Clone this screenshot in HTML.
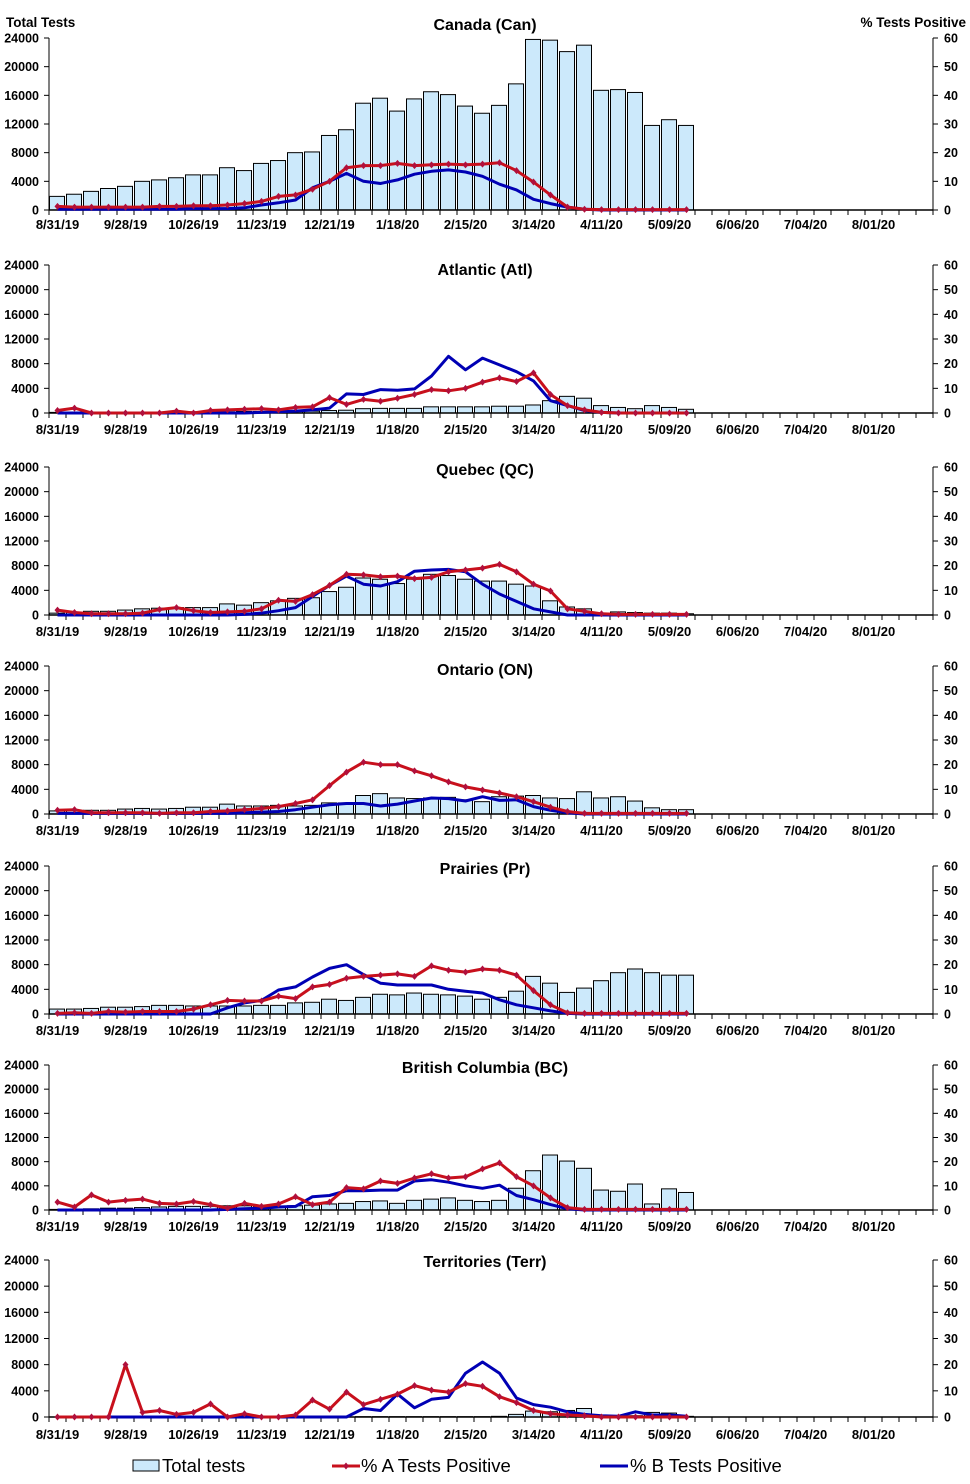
<!DOCTYPE html>
<html><head><meta charset="utf-8"><style>
body{margin:0;background:#fff;}
svg text{font-family:"Liberation Sans",Arial,sans-serif;font-weight:bold;fill:#000;}
</style></head><body>
<svg id="c" width="970" height="1479" xmlns="http://www.w3.org/2000/svg"></svg>
<script>
var S=document.getElementById('c');
var h='';
var X0=49,SL=17,N=52;
function cx(i){return X0+SL*i+8.5;}
var labels=['8/31/19','9/28/19','10/26/19','11/23/19','12/21/19','1/18/20','2/15/20','3/14/20','4/11/20','5/09/20','6/06/20','7/04/20','8/01/20'];
var P=[
{t:'Canada (Can)',top:38,z:210,ty:30,ly:229,
b:[1.9,2.2,2.6,3.0,3.3,4.0,4.2,4.5,4.9,4.9,5.9,5.5,6.5,6.9,8.0,8.1,10.4,11.2,14.9,15.6,13.8,15.5,16.5,16.1,14.5,13.5,14.6,17.6,23.8,23.7,22.1,23.0,16.7,16.8,16.4,11.8,12.6,11.8],
r:[0.5,0.4,0.4,0.4,0.4,0.4,0.5,0.5,0.6,0.6,0.7,0.9,1.2,1.9,2.1,2.9,4.0,5.9,6.2,6.2,6.5,6.2,6.3,6.4,6.3,6.4,6.6,5.5,3.9,2.1,0.4,0.1,0.05,0.05,0.05,0.05,0.05,0.05],
u:[0.1,0.1,0.1,0.1,0.1,0.1,0.1,0.1,0.2,0.2,0.2,0.3,0.7,1.0,1.4,3.1,4.0,5.1,4.0,3.7,4.2,5.0,5.4,5.6,5.3,4.7,3.6,2.8,1.5,0.9,0.4,0.1,0,0,0,0,0,0]},
{t:'Atlantic (Atl)',top:265,z:413,ty:275,ly:434,
b:[0.1,0.1,0.1,0.1,0.1,0.1,0.1,0.15,0.2,0.2,0.2,0.25,0.25,0.3,0.3,0.3,0.4,0.45,0.7,0.75,0.75,0.75,1.0,1.0,1.0,1.0,1.1,1.1,1.3,2.0,2.7,2.4,1.2,0.9,0.7,1.2,0.9,0.6],
r:[0.4,0.8,0,0,0,0,0,0.3,0,0.4,0.5,0.6,0.7,0.5,0.9,1.0,2.5,1.4,2.2,1.9,2.4,3.0,3.8,3.6,4.0,5.0,5.7,5.1,6.5,3.0,1.2,0.5,0.1,0,0,0,0,0],
u:[0,0,0,0,0,0,0,0,0,0,0,0,0.1,0.2,0.3,0.5,0.8,3.1,3.0,3.8,3.7,3.9,6.0,9.2,7.0,8.9,7.8,6.7,5.2,2.0,1.2,0.4,0.1,0,0,0,0,0]},
{t:'Quebec (QC)',top:467,z:615,ty:475,ly:636,
b:[0.3,0.4,0.6,0.6,0.8,1.0,1.1,1.2,1.2,1.2,1.8,1.6,2.0,2.3,2.7,2.8,3.8,4.5,6.0,5.8,5.1,5.8,6.6,6.4,5.8,5.5,5.5,5.0,4.7,2.3,1.3,1.0,0.1,0.5,0.4,0.3,0.3,0.2],
r:[0.8,0.4,0.2,0.2,0.2,0.3,0.9,1.2,0.7,0.4,0.5,0.6,1.0,2.4,2.2,3.3,4.8,6.6,6.5,6.2,6.3,5.9,6.1,7.0,7.3,7.6,8.2,7.0,5.0,3.9,1.0,0.6,0.2,0.1,0.1,0.1,0.1,0.1],
u:[0,0,0,0,0,0,0,0,0,0,0,0.1,0.3,0.7,1.2,3.0,4.8,6.3,5.0,4.7,5.4,7.1,7.3,7.4,7.0,5.0,3.4,2.2,1.0,0.5,0,0,0,0,0,0,0,0]},
{t:'Ontario (ON)',top:666,z:814,ty:675,ly:835,
b:[0.5,0.6,0.6,0.6,0.8,0.9,0.8,0.9,1.1,1.1,1.6,1.3,1.3,1.4,1.3,1.4,1.8,1.8,3.0,3.3,2.6,2.5,2.6,2.7,2.3,2.0,2.8,2.9,3.0,2.6,2.5,3.6,2.6,2.8,2.1,1.0,0.7,0.7],
r:[0.6,0.7,0.2,0.2,0.2,0.2,0.1,0.2,0.2,0.4,0.5,0.7,0.9,1.2,1.7,2.3,4.6,6.8,8.4,8.0,8.0,7.0,6.2,5.2,4.4,3.9,3.4,2.8,2.0,1.1,0.4,0.1,0.1,0.1,0.1,0.1,0.1,0.1],
u:[0.1,0.1,0.1,0.1,0.1,0.1,0.1,0.1,0.1,0.1,0.1,0.2,0.3,0.4,0.7,1.1,1.5,1.7,1.7,1.3,1.6,2.1,2.6,2.5,2.1,2.8,2.2,2.3,1.2,0.6,0.2,0,0,0,0,0,0,0]},
{t:'Prairies (Pr)',top:866,z:1014,ty:874,ly:1035,
b:[0.8,0.8,0.9,1.1,1.1,1.2,1.4,1.4,1.3,1.3,1.3,1.3,1.4,1.4,1.8,1.9,2.4,2.2,2.7,3.2,3.1,3.4,3.2,3.1,2.9,2.4,2.7,3.7,6.1,5.0,3.5,4.2,5.4,6.7,7.3,6.7,6.3,6.3],
r:[0.1,0.2,0.1,0.4,0.3,0.4,0.4,0.4,0.8,1.5,2.2,2.1,2.1,2.9,2.5,4.4,4.8,5.8,6.1,6.3,6.5,6.1,7.8,7.1,6.8,7.3,7.1,6.3,3.8,1.5,0.2,0.1,0.1,0.1,0.1,0.1,0.1,0.1],
u:[0,0,0,0,0,0,0,0,0,0,1.0,1.8,2.2,3.9,4.4,6.0,7.4,8.0,6.4,5.0,4.7,4.7,4.7,4.0,3.7,3.4,2.3,1.5,1.0,0.5,0.1,0,0,0,0,0,0,0]},
{t:'British Columbia (BC)',top:1065,z:1210,ty:1073,ly:1231,
b:[0.1,0.1,0.2,0.3,0.3,0.4,0.5,0.6,0.6,0.6,0.7,0.7,0.6,0.6,0.7,0.8,1.0,1.1,1.4,1.5,1.1,1.6,1.8,2.0,1.6,1.4,1.6,3.6,6.5,9.1,8.1,6.9,3.3,3.1,4.3,1.0,3.5,2.9],
r:[1.3,0.5,2.5,1.3,1.6,1.8,1.1,1.0,1.4,0.9,0.3,1.1,0.6,1.0,2.2,0.9,1.3,3.7,3.5,4.8,4.4,5.3,6.0,5.3,5.5,6.8,7.8,5.5,4.0,2.0,0.4,0.1,0.1,0.1,0.1,0.1,0.1,0.1],
u:[0,0,0,0,0,0,0,0,0,0,0.1,0.2,0.3,0.5,0.6,2.2,2.4,3.2,3.2,3.3,3.3,4.8,5.0,4.6,4.0,3.6,4.1,2.4,1.7,0.9,0.2,0,0,0,0,0,0,0]},
{t:'Territories (Terr)',top:1260,z:1417,ty:1267,ly:1439,
b:[0,0,0,0,0,0,0,0,0,0,0,0,0,0,0,0,0,0,0.05,0.05,0.05,0.05,0.05,0.05,0.05,0.05,0.1,0.4,0.9,0.8,1.0,1.3,0.3,0.2,0.2,0.7,0.6,0.1],
r:[0,0,0,0,8.0,0.7,1.0,0.4,0.7,2.0,0,0.5,0,0,0.3,2.6,1.2,3.8,1.9,2.7,3.5,4.8,4.1,3.8,5.1,4.7,3.1,2.2,1.0,0.5,0.3,0.2,0,0,0,0,0,0],
u:[0,0,0,0,0,0,0,0,0,0,0,0,0,0,0,0,0,0,1.3,1.0,3.5,1.4,2.7,3.0,6.7,8.4,6.7,2.9,1.9,1.5,0.8,0.4,0.2,0.1,0.8,0.3,0.3,0.1]}
];
P.forEach(function(p,k){
 var H=p.z-p.top, sc=H/24;
 function Y(v){return p.z-v*sc;}
 p.b.forEach(function(v,i){ if(v<=0)return; var y=Y(v); h+='<rect x="'+(X0+SL*i+0.5)+'" y="'+y+'" width="15" height="'+(p.z-y)+'" fill="#cce9fb" stroke="#000" stroke-width="1"/>';});
 var XR=X0+SL*N;
 h+='<line x1="'+X0+'" y1="'+p.top+'" x2="'+X0+'" y2="'+(p.z+4)+'" stroke="#000"/>';
 h+='<line x1="'+XR+'" y1="'+p.top+'" x2="'+XR+'" y2="'+(p.z+4)+'" stroke="#000"/>';
 h+='<line x1="'+X0+'" y1="'+p.z+'" x2="'+XR+'" y2="'+p.z+'" stroke="#000" stroke-width="1.5"/>';
 for(var i=0;i<=N;i++){h+='<line x1="'+(X0+SL*i)+'" y1="'+p.z+'" x2="'+(X0+SL*i)+'" y2="'+(p.z+5)+'" stroke="#000"/>';}
 for(var j=0;j<=6;j++){var y=Y(j*4);
  h+='<line x1="'+(X0-5)+'" y1="'+y+'" x2="'+X0+'" y2="'+y+'" stroke="#000"/>';
  h+='<line x1="'+XR+'" y1="'+y+'" x2="'+(XR+5)+'" y2="'+y+'" stroke="#000"/>';
  h+='<text x="'+(X0-10)+'" y="'+(y+4.5)+'" font-size="12.5" text-anchor="end">'+(j*4000)+'</text>';
  h+='<text x="'+(XR+11)+'" y="'+(y+4.5)+'" font-size="12.5">'+(j*10)+'</text>';}
 labels.forEach(function(l,m){h+='<text x="'+cx(4*m)+'" y="'+p.ly+'" font-size="13" text-anchor="middle">'+l+'</text>';});
 h+='<text x="485" y="'+p.ty+'" font-size="16" text-anchor="middle">'+p.t+'</text>';
 function pts(a){return a.map(function(v,i){return cx(i)+','+Y(v).toFixed(1);}).join(' ');}
 h+='<polyline points="'+pts(p.u)+'" fill="none" stroke="#0000b4" stroke-width="3" stroke-linejoin="round"/>';
 h+='<polyline points="'+pts(p.r)+'" fill="none" stroke="#c8101c" stroke-width="3" stroke-linejoin="round"/>';
 p.r.forEach(function(v,i){var x=cx(i),y=Y(v);h+='<path d="M'+x+' '+(y-3.5)+'L'+(x+3)+' '+y+'L'+x+' '+(y+3.5)+'L'+(x-3)+' '+y+'Z" fill="#b0103c"/>';});
});
h+='<text x="6" y="27" font-size="13.5">Total Tests</text>';
h+='<text x="966" y="27" font-size="13.5" text-anchor="end">% Tests Positive</text>';
h+='<rect x="133" y="1460" width="26" height="11" fill="#cce9fb" stroke="#000"/>';
h+='<text x="162" y="1472" font-size="18.5" style="font-weight:normal">Total tests</text>';
h+='<line x1="332" y1="1466" x2="360" y2="1466" stroke="#c8101c" stroke-width="3"/><path d="M346 1462.5L349 1466L346 1469.5L343 1466Z" fill="#b0103c"/>';
h+='<text x="361" y="1472" font-size="18.5" style="font-weight:normal">% A Tests Positive</text>';
h+='<line x1="600" y1="1466" x2="628" y2="1466" stroke="#0000b4" stroke-width="3"/>';
h+='<text x="630" y="1472" font-size="18.5" style="font-weight:normal">% B Tests Positive</text>';
S.innerHTML=h;
</script>
</body></html>
